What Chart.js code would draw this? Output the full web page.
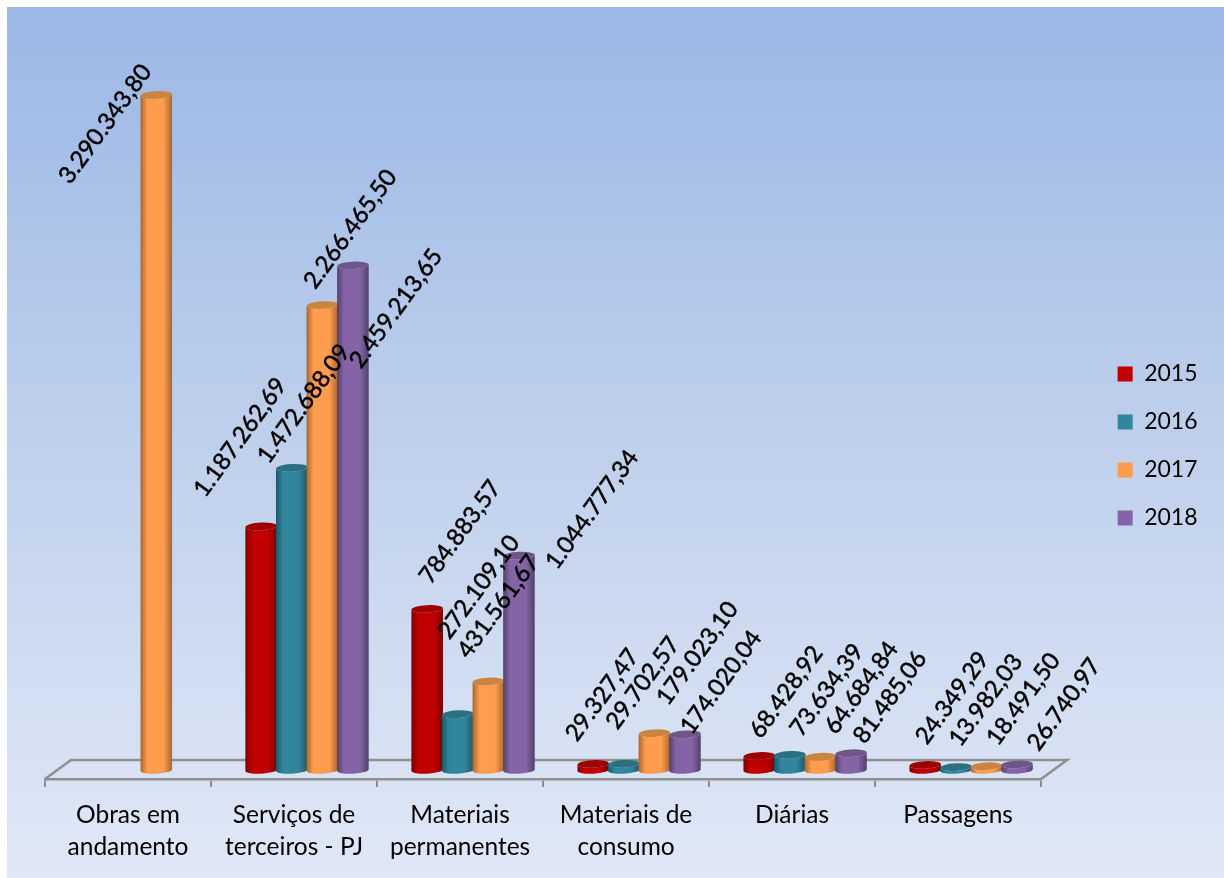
<!DOCTYPE html>
<html>
<head>
<meta charset="utf-8">
<script src="https://cdn.jsdelivr.net/npm/chart.js@4"></script>
<style>
    html, body { margin: 0; padding: 0; background: #fff; }
    #wrap { width: 1224px; height: 878px; }
</style>
</head>
<body>
<div id="wrap"><canvas id="myChart"></canvas></div>
<script>
const categories = [
    ['Obras em', 'andamento'],
    ['Serviços de', 'terceiros - PJ'],
    ['Materiais', 'permanentes'],
    ['Materiais de', 'consumo'],
    ['Diárias'],
    ['Passagens'],
];

const values2015 = [null, 1187262.69, 784883.57, 29327.47, 68428.92, 24349.29];
const values2016 = [null, 1472688.09, 272109.10, 29702.57, 73634.39, 13982.03];
const values2017 = [3290343.80, 2266465.50, 431561.67, 179023.10, 64684.84, 18491.50];
const values2018 = [null, 2459213.65, 1044777.34, 174020.04, 81485.06, 26740.97];

// hand placed labels in the original, offset of label centre from the bar top
const labelShift2015 = [null, [-21, -89], [33, -77], [9, -69], [27, -64], [27, -67]];
const labelShift2016 = [null, [12, -64], [21, -127], [19, -81], [37, -65], [30, -67]];
const labelShift2017 = [[-51, 29], [28, -76], [10, -75], [43, -80], [41, -69], [37, -67]];
const labelShift2018 = [null, [43, 43], [73, -46], [36, -52], [39, -56], [47, -60]];

const depth = 13; // bars stand in the middle of the floor

function formatBR(v) {
    return v.toLocaleString('pt-BR', { minimumFractionDigits: 2, maximumFractionDigits: 2 });
}

function series(label, data, shifts, color, edge, top) {
    return { label, data, shifts, backgroundColor: color, edge, top, borderWidth: 0 };
}

const datasets = [
    series('2015', values2015, labelShift2015, '#c00000', '#7d0000', '#9e0000'),
    series('2016', values2016, labelShift2016, '#31859c', '#1f5666', '#2a6f82'),
    series('2017', values2017, labelShift2017, '#ff9c4d', '#a8672f', '#c98540'),
    series('2018', values2018, labelShift2018, '#8464a6', '#54406b', '#6e5689'),
];

function drawCylinder(ctx, bar, ds) {
    const x = bar.x + depth;
    const r = bar.width / 2 + 0.5;
    const ry = 3.8;
    const tilt = -0.05;
    const grad = ctx.createLinearGradient(x - r, 0, x + r, 0);
    grad.addColorStop(0, ds.edge);
    grad.addColorStop(0.22, ds.backgroundColor);
    grad.addColorStop(0.72, ds.backgroundColor);
    grad.addColorStop(1, ds.edge);
    ctx.fillStyle = grad;
    ctx.beginPath();
    ctx.ellipse(x, bar.base, r, ry, tilt, 0, Math.PI);
    ctx.ellipse(x, bar.y, r, ry, tilt, Math.PI, 0, true);
    ctx.closePath();
    ctx.fill();
    ctx.fillStyle = ds.top;
    ctx.beginPath();
    ctx.ellipse(x, bar.y, r, ry, tilt, 0, Math.PI * 2);
    ctx.fill();
}

const cylinders = {
    id: 'cylinders',
    beforeDraw(chart) {
        const ctx = chart.ctx;
        const bg = ctx.createLinearGradient(0, 7, 0, 878);
        bg.addColorStop(0, '#9bb7e5');
        bg.addColorStop(0.5, '#bfd0ec');
        bg.addColorStop(1, '#e0e8f6');
        ctx.fillStyle = bg;
        ctx.fillRect(7, 7, 1217, 871);
    },
    beforeDatasetsDraw(chart) {
        const ctx = chart.ctx;
        const area = chart.chartArea;
        const yFront = area.bottom;
        const yBack = yFront - 19;

        // floor of the 3D box
        ctx.save();
        ctx.strokeStyle = '#8f8f8f';
        ctx.lineWidth = 2.5;
        ctx.beginPath();
        ctx.moveTo(area.left, yFront);
        ctx.lineTo(area.left + 2 * depth, yBack);
        ctx.lineTo(area.right + 2 * depth, yBack);
        ctx.lineTo(area.right, yFront);
        ctx.stroke();

        // left to right so that each bar overlaps the previous one
        datasets.forEach(function (ds, i) {
            chart.getDatasetMeta(i).data.forEach(function (bar, j) {
                if (ds.data[j] !== null) drawCylinder(ctx, bar, ds);
            });
        });

        ctx.fillStyle = '#000';
        ctx.strokeStyle = '#000';
        ctx.lineWidth = 0.5;
        ctx.font = '23.7px Lato';
        ctx.textAlign = 'center';
        ctx.textBaseline = 'middle';
        datasets.forEach(function (ds, i) {
            chart.getDatasetMeta(i).data.forEach(function (bar, j) {
                if (ds.data[j] === null) return;
                ctx.save();
                ctx.translate(bar.x + depth + ds.shifts[j][0], bar.y + ds.shifts[j][1]);
                ctx.rotate(-54 * Math.PI / 180);
                ctx.fillText(formatBR(ds.data[j]), 0, 0);
                ctx.strokeText(formatBR(ds.data[j]), 0, 0);
                ctx.restore();
            });
        });
        ctx.restore();
        return false;
    },
};

const myChart = new Chart(document.getElementById('myChart'), {
    type: 'bar',
    data: { labels: categories, datasets: datasets },
    plugins: [cylinders],
    options: {
        responsive: true,
        maintainAspectRatio: false,
        animation: false,
        categoryPercentage: 0.737,
        barPercentage: 1,
        layout: { padding: { left: 45, right: 16.5, top: 14, bottom: 0 } },
        plugins: {
            tooltip: { enabled: false },
            title: { display: false },
            legend: {
                position: 'right',
                labels: {
                    boxWidth: 15,
                    boxHeight: 15,
                    padding: 25,
                    color: '#000',
                    font: { family: 'Lato', size: 23 },
                },
            },
        },
        scales: {
            x: {
                offset: true,
                border: { color: '#8f8f8f', width: 2.5 },
                grid: { drawOnChartArea: false, drawTicks: true, tickLength: 8, color: '#8f8f8f', lineWidth: 2, offset: true },
                ticks: {
                    color: '#000',
                    padding: 12,
                    maxRotation: 0,
                    autoSkip: false,
                    font: { family: 'Lato', size: 24.5, lineHeight: 1.31 },
                },
                afterFit(scale) { scale.height = 99; },
            },
            y: {
                position: 'right',
                min: -44000,
                max: 3685000,
                border: { display: false },
                grid: { display: false },
                ticks: { display: false },
                afterFit(scale) { scale.width = 51.5; },
            },
        },
    },
});
</script>
</body>
</html>
